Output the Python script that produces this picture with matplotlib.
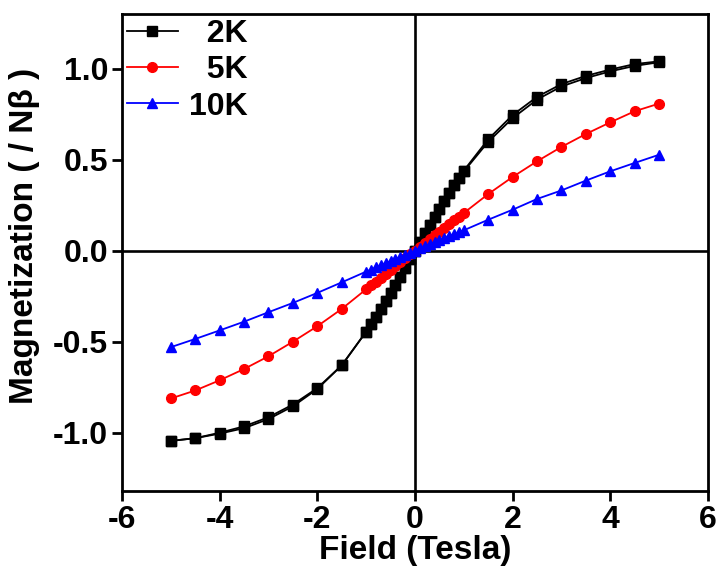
import numpy as np
import matplotlib
matplotlib.use("Agg")
import matplotlib.pyplot as plt

plt.rcParams['font.family'] = ['Liberation Sans', 'DejaVu Sans']
plt.rcParams['font.weight'] = 'bold'

field = [-5, -4.5, -4, -3.5, -3, -2.5, -2, -1.5,
         -1.0, -0.9, -0.8, -0.7, -0.6, -0.5, -0.4, -0.3, -0.2, -0.1, 0.0,
         0.1, 0.2, 0.3, 0.4, 0.5, 0.6, 0.7, 0.8, 0.9, 1.0,
         1.5, 2, 2.5, 3, 3.5, 4, 4.5, 5]

m_2k = [-1.045, -1.03, -1.005, -0.975, -0.925, -0.855, -0.76, -0.63,
        -0.445, -0.405, -0.365, -0.32, -0.278, -0.233, -0.188, -0.142, -0.095, -0.048, 0.0,
        0.05, 0.095, 0.14, 0.185, 0.23, 0.275, 0.318, 0.36, 0.40, 0.44,
        0.612, 0.745, 0.845, 0.915, 0.96, 0.995, 1.025, 1.04]

# second (return) sweep of the 2K loop
m_2k_ret = [-1.045, -1.03, -1.0, -0.965, -0.915, -0.845, -0.755, -0.63,
            -0.445, -0.405, -0.365, -0.32, -0.278, -0.233, -0.188, -0.142, -0.095, -0.048, 0.0,
            0.05, 0.095, 0.14, 0.185, 0.23, 0.275, 0.318, 0.36, 0.40, 0.435,
            0.598, 0.728, 0.83, 0.902, 0.948, 0.985, 1.015, 1.035]

m_5k = [-0.812, -0.768, -0.712, -0.65, -0.58, -0.50, -0.415, -0.32,
        -0.212, -0.191, -0.17, -0.149, -0.128, -0.106, -0.085, -0.064, -0.043, -0.021, 0.0,
        0.021, 0.042, 0.063, 0.084, 0.104, 0.125, 0.146, 0.166, 0.187, 0.207,
        0.311, 0.405, 0.491, 0.570, 0.641, 0.705, 0.766, 0.808]

m_10k = [-0.53, -0.485, -0.438, -0.39, -0.338, -0.287, -0.232, -0.174,
         -0.115, -0.104, -0.092, -0.081, -0.069, -0.058, -0.046, -0.035, -0.023, -0.012, 0.0,
         0.012, 0.023, 0.034, 0.046, 0.057, 0.068, 0.079, 0.09, 0.101, 0.112,
         0.170, 0.225, 0.284, 0.331, 0.385, 0.436, 0.482, 0.527]

xticks = [-6, -4, -2, 0, 2, 4, 6]
yticks = [-1.0, -0.5, 0.0, 0.5, 1.0]

fig = plt.figure(figsize=(7.2, 5.76), dpi=100)
ax = fig.add_axes([0.1694, 0.1476, 0.8139, 0.8281])

ax.axhline(0, color='black', lw=1.9, zorder=1)
ax.axvline(0, color='black', lw=1.9, zorder=1)

ax.plot(field, m_2k, color='black', marker='s', ms=6.5, lw=1.3, label='  2K', zorder=3)
ax.plot(field, m_2k_ret, color='black', marker='s', ms=6.5, lw=1.3, zorder=3)
ax.plot(field, m_5k, color='red', marker='o', ms=7, lw=1.3, label='  5K', zorder=3)
ax.plot(field, m_10k, color='blue', marker='^', ms=7.5, lw=1.3, label='10K', zorder=3)

ax.set_xlim(-6, 6)
ax.set_ylim(-1.32, 1.30)
ax.set_xticks(xticks)
ax.set_xticklabels([f'{t:d}' for t in xticks])
ax.set_yticks(yticks)
ax.set_yticklabels([f'{t:.1f}' for t in yticks])

for s in ax.spines.values():
    s.set_linewidth(2.0)
ax.tick_params(axis='both', direction='out', length=7, width=2.0, labelsize=23, pad=3)
ax.tick_params(top=False, right=False)
for lab in ax.get_xticklabels() + ax.get_yticklabels():
    lab.set_fontweight('bold')

ax.set_xlabel('Field (Tesla)', fontsize=24, fontweight='bold', labelpad=0)
ax.set_ylabel('Magnetization ( / N\u03b2 )', fontsize=24, fontweight='bold')
ax.yaxis.set_label_coords(-0.14, 0.535)

leg = ax.legend(loc='upper left', frameon=False, handlelength=1.6,
                borderaxespad=0.0, borderpad=0.15, labelspacing=0.2, handletextpad=0.35,
                prop={'weight': 'bold', 'size': 23})

fig.savefig('out.png', dpi=100)
